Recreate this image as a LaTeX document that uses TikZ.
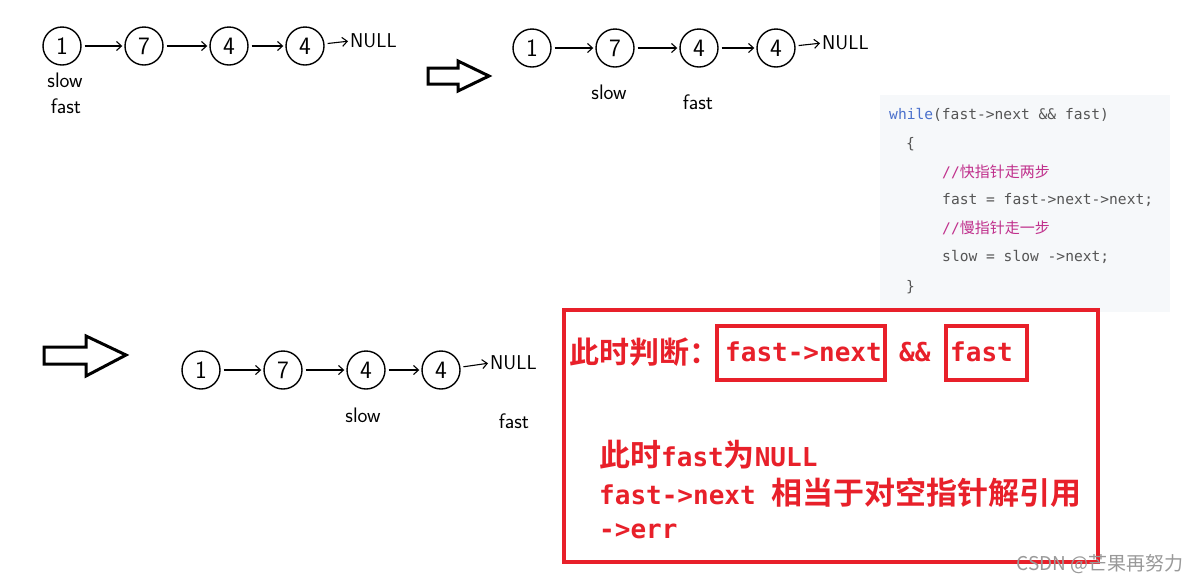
\documentclass[tikz,border=0pt]{standalone}
\usepackage{fontspec}
\usetikzlibrary{arrows.meta}
\newfontfamily\cjk{Noto Sans CJK SC}
\newfontfamily\cjkb{Noto Sans CJK SC}[UprightFont=* Bold]
\newfontfamily\mono{DejaVu Sans Mono}
\newfontfamily\monob{DejaVu Sans Mono Bold}
\definecolor{redbox}{HTML}{E8202A}
\definecolor{codebg}{HTML}{F6F8FA}
\definecolor{kw}{HTML}{4A70CC}
\definecolor{codetxt}{HTML}{555555}
\definecolor{cmt}{HTML}{C0308C}
\tikzset{
  lnode/.style={circle,draw,line width=1.4pt,minimum size=38pt,inner sep=0pt,font=\sffamily\fontsize{25}{25}\selectfont},
  link/.style={line width=1.1pt,-{Straight Barb[length=5pt,width=9pt]},shorten <=3pt,shorten >=2pt},
  nulltxt/.style={anchor=west,inner sep=0pt,font=\sffamily\fontsize{20}{20}\selectfont},
  hand/.style={inner sep=0pt,font=\sffamily\fontsize{21}{21}\selectfont},
  hollow/.style={draw,line width=3pt,line join=miter,fill=white},
  codeline/.style={anchor=west,inner sep=0pt,text=codetxt,font=\mono\fontsize{14.6}{16}\selectfont},
  redtxt/.style={anchor=west,inner sep=0pt,text=redbox,font=\monob\fontsize{26}{30}\selectfont},
  redframe/.style={draw=redbox,line width=3.5pt}
}
\newcommand{\zh}[1]{{\cjk\fontsize{15}{16}\selectfont #1}}
\newcommand{\zhb}[1]{{\cjkb\fontsize{30}{32}\selectfont #1}}
\newcommand{\zhB}[1]{{\cjkb\fontsize{31}{32}\selectfont #1}}
\begin{document}
\begin{tikzpicture}[x=1pt,y=-1pt]
\useasboundingbox[fill=white] (0,0) rectangle (1196,582);

% ---------- row 1 ----------
\node[lnode] (a1) at (62,46) {1};
\node[lnode] (a2) at (144,46) {7};
\node[lnode] (a3) at (229,46) {4};
\node[lnode] (a4) at (305,46) {4};
\node[nulltxt] (an) at (350,41) {NULL};
\draw[link] (a1) -- (a2);
\draw[link] (a2) -- (a3);
\draw[link] (a3) -- (a4);
\draw[link] (a4) -- (an.west);
\node[hand] (as) at (65,80) {slow};
\node[hand] (af) at (66,106) {fast};

% ---------- hollow arrow 1 ----------
\draw[hollow] (428,68) -- (458,68) -- (458,61) -- (489,76) -- (458,91) -- (458,84) -- (428,84) -- cycle;

% ---------- row 2 ----------
\node[lnode] (b1) at (532,48) {1};
\node[lnode] (b2) at (615,48) {7};
\node[lnode] (b3) at (699,48) {4};
\node[lnode] (b4) at (776,48) {4};
\node[nulltxt] (bn) at (822,43) {NULL};
\draw[link] (b1) -- (b2);
\draw[link] (b2) -- (b3);
\draw[link] (b3) -- (b4);
\draw[link] (b4) -- (bn.west);
\node[hand] (bs) at (609,92) {slow};
\node[hand] (bf) at (698,102) {fast};

% ---------- code block ----------
\fill[codebg] (880,95) rectangle (1170,312);
\node[codeline] (c1) at (889,115) {\textcolor{kw}{while}(fast->next \&\& fast)};
\node[codeline] (c2) at (906,144) {\{};
\node[codeline,text=cmt] (c3) at (942,172) {//\zh{快指针走两步}};
\node[codeline] (c4) at (942,200) {fast = fast->next->next;};
\node[codeline,text=cmt] (c5) at (942,228) {//\zh{慢指针走一步}};
\node[codeline] (c6) at (942,257) {slow = slow ->next;};
\node[codeline] (c7) at (906,287) {\}};

% ---------- hollow arrow 2 ----------
\draw[hollow] (44,347) -- (86,347) -- (86,336) -- (126,355) -- (86,376) -- (86,364) -- (44,364) -- cycle;

% ---------- row 3 ----------
\node[lnode] (d1) at (201,370) {1};
\node[lnode] (d2) at (283,370) {7};
\node[lnode] (d3) at (366,370) {4};
\node[lnode] (d4) at (441,370) {4};
\node[nulltxt] (dn) at (490,363) {NULL};
\draw[link] (d1) -- (d2);
\draw[link] (d2) -- (d3);
\draw[link] (d3) -- (d4);
\draw[link] (d4) -- (dn.west);
\node[hand] (ds) at (363,415) {slow};
\node[hand] (df) at (514,421) {fast};

% ---------- red explanation box ----------
\draw[redframe] (564,310) rectangle (1098,562);
\node[redtxt] (r1) at (569,352) {\zhb{此时判断：}};
\node[redtxt] (r1a) at (725,352) {fast->next};
\node[redtxt] (r1b) at (899,352) {\&\&};
\node[redtxt] (r1c) at (950,352) {fast};
\draw[redframe] (717,326) rectangle (885,380);
\node[redtxt] (r2) at (599,455) {\zhB{此时}fast\zhB{为}NULL};
\node[redtxt] (r3) at (599,493) {fast->next \zhB{相当于对空指针解引用}};
\node[redtxt] (r4) at (599,531) {->err};
\draw[redframe] (946,326) rectangle (1027,380);

% ---------- watermark ----------
\node[anchor=east,inner sep=0pt,text=black!40,font=\cjk\fontsize{19}{20}\selectfont] (wm) at (1184,564) {CSDN @芒果再努力};
\end{tikzpicture}
\end{document}
